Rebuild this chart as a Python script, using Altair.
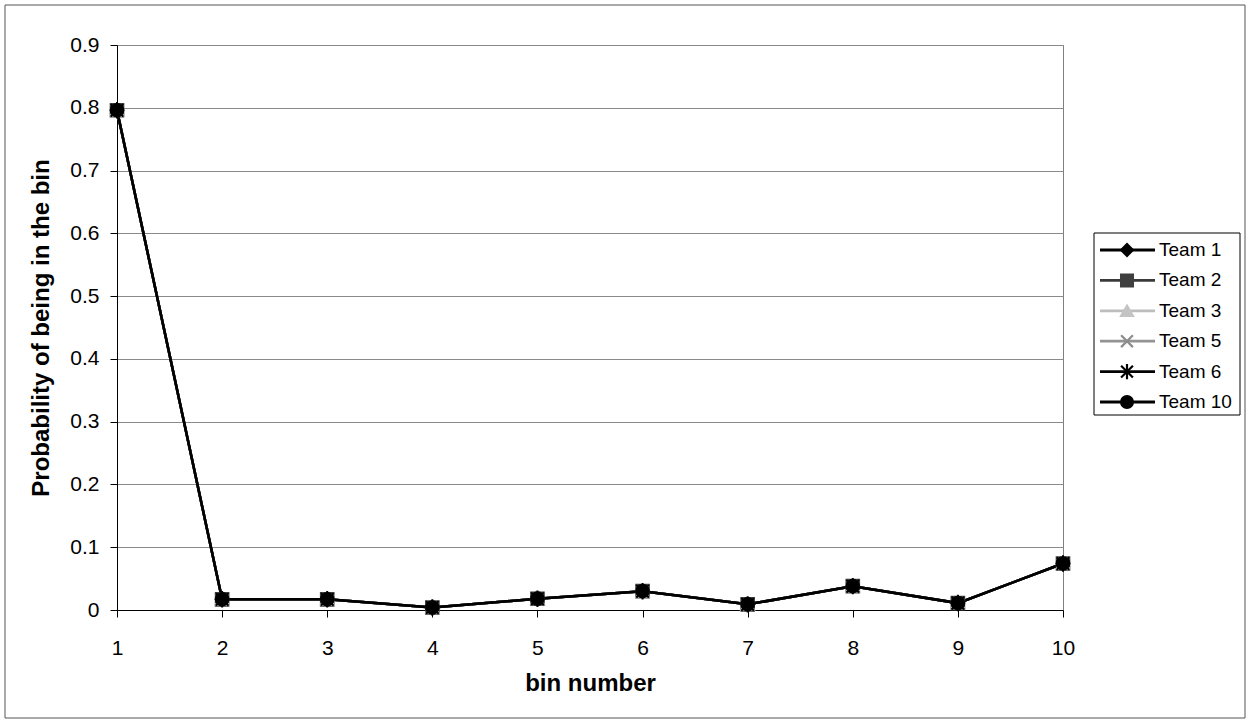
import altair as alt
import pandas as pd

bins = [1, 2, 3, 4, 5, 6, 7, 8, 9, 10]
teams = ["Team 1", "Team 2", "Team 3", "Team 5", "Team 6", "Team 10"]
# all teams overlap in the picture
prob = [0.796, 0.017, 0.017, 0.004, 0.018, 0.030, 0.009, 0.038, 0.011, 0.074]
y_ticks = [0, 0.1, 0.2, 0.3, 0.4, 0.5, 0.6, 0.7, 0.8, 0.9]

team_colors = ["#000000", "#3a3a3a", "#bdbdbd", "#939393", "#000000", "#000000"]
marker_colors = ["#000000", "#3f3f3f", "#c4c4c4", "#8c8c8c", "#000000", "#000000"]
marker_shapes = [
    "diamond",
    "square",
    "triangle-up",
    "M-1,-1L1,1M-1,1L1,-1",
    "M-1,-1L1,1M-1,1L1,-1M0,-1.3V1.3",
    "circle",
]

rows = []
for t in teams:
    for b, p in zip(bins, prob):
        rows.append({"Team": t, "bin": b, "p": p})
df = pd.DataFrame(rows)
legend_df = pd.DataFrame({"Team": teams})

FONT = "Liberation Sans"

x_enc = alt.X(
    "bin:Q",
    scale=alt.Scale(domain=[1, 10], nice=False, zero=False),
    axis=alt.Axis(
        values=bins, format="d", title="bin number", grid=False,
        labelFontSize=21, labelFont=FONT, labelColor="black",
        titleFontSize=24, titleFont=FONT, titleFontWeight="bold", titleColor="black",
        tickSize=7, tickColor="black", domainColor="black",
        labelPadding=20, titlePadding=13, labelFlush=False,
    ),
)
y_enc = alt.Y(
    "p:Q",
    scale=alt.Scale(domain=[0, 0.9], nice=False),
    axis=alt.Axis(
        orient="left", grid=True,
        values=y_ticks, title="Probability of being in the bin",
        labelExpr="datum.value == 0 ? '0' : format(datum.value, '.1f')",
        labelFontSize=21, labelFont=FONT, labelColor="black",
        titleFontSize=24, titleFont=FONT, titleFontWeight="bold", titleColor="black",
        tickSize=7, tickColor="black", domainColor="black",
        gridColor="#8a8a8a", gridWidth=1, labelPadding=11, titlePadding=16,
    ),
)

line_scale = alt.Scale(domain=teams, range=team_colors)
fill_scale = alt.Scale(domain=teams, range=marker_colors)
shape_scale = alt.Scale(domain=teams, range=marker_shapes)

lines = alt.Chart(df).mark_line(strokeWidth=2.5).encode(
    x=x_enc, y=y_enc,
    color=alt.Color("Team:N", scale=line_scale, legend=None),
    detail="Team:N",
    order=alt.Order("bin:Q"),
)

point_layers = []
for t, shp, col in zip(teams, marker_shapes, marker_colors):
    point_layers.append(
        alt.Chart(df).transform_filter(alt.datum.Team == t).mark_point(
            filled=True, opacity=1, size=160, strokeWidth=2, shape=shp,
            fill=col, stroke=col,
        ).encode(x="bin:Q", y="p:Q")
    )

plot = alt.layer(lines, *point_layers)

# ---- legend drawn as marks, rows placed by a point scale on the team names ----
row_y = alt.Y(
    "Team:N",
    scale=alt.Scale(type="point", domain=teams, range=[205, 357], padding=0),
    axis=None,
)

frame = alt.Chart(pd.DataFrame({"a": [0]})).mark_rect(
    fill=None, stroke="#555555", strokeWidth=1, clip=False
).encode(
    x=alt.value(-112), x2=alt.value(1128), y=alt.value(-40), y2=alt.value(673)
)
legend_box = alt.Chart(pd.DataFrame({"a": [0]})).mark_rect(
    fill="white", stroke="black", strokeWidth=1, clip=False
).encode(
    x=alt.value(977), x2=alt.value(1123), y=alt.value(188), y2=alt.value(370)
)
legend_lines = alt.Chart(legend_df).mark_rule(strokeWidth=2.8, clip=False).encode(
    x=alt.value(983), x2=alt.value(1038), y=row_y,
    color=alt.Color("Team:N", scale=line_scale, legend=None),
)
legend_pts = alt.Chart(legend_df).mark_point(
    filled=True, opacity=1, size=140, strokeWidth=2.2, clip=False
).encode(
    x=alt.value(1010), y="Team:N",
    shape=alt.Shape("Team:N", scale=shape_scale, legend=None),
    fill=alt.Fill("Team:N", scale=fill_scale, legend=None),
    stroke=alt.Stroke("Team:N", scale=fill_scale, legend=None),
)
legend_txt = alt.Chart(legend_df).mark_text(
    align="left", baseline="middle", fontSize=19, font=FONT, color="black", clip=False
).encode(x=alt.value(1042), y="Team:N", text="Team:N")

legend = alt.layer(frame, legend_box, legend_lines, legend_pts, legend_txt)

chart = alt.layer(plot, legend).resolve_scale(
    y="independent", color="independent"
).properties(
    width=946, height=565,
    autosize=alt.AutoSizeParams(type="none"),
    padding={"left": 117, "top": 45, "right": 186, "bottom": 113},
    background="white",
).configure_view(stroke="#808080", strokeWidth=1)

chart.save("out.html", embed_options={"renderer": "svg", "actions": False})
